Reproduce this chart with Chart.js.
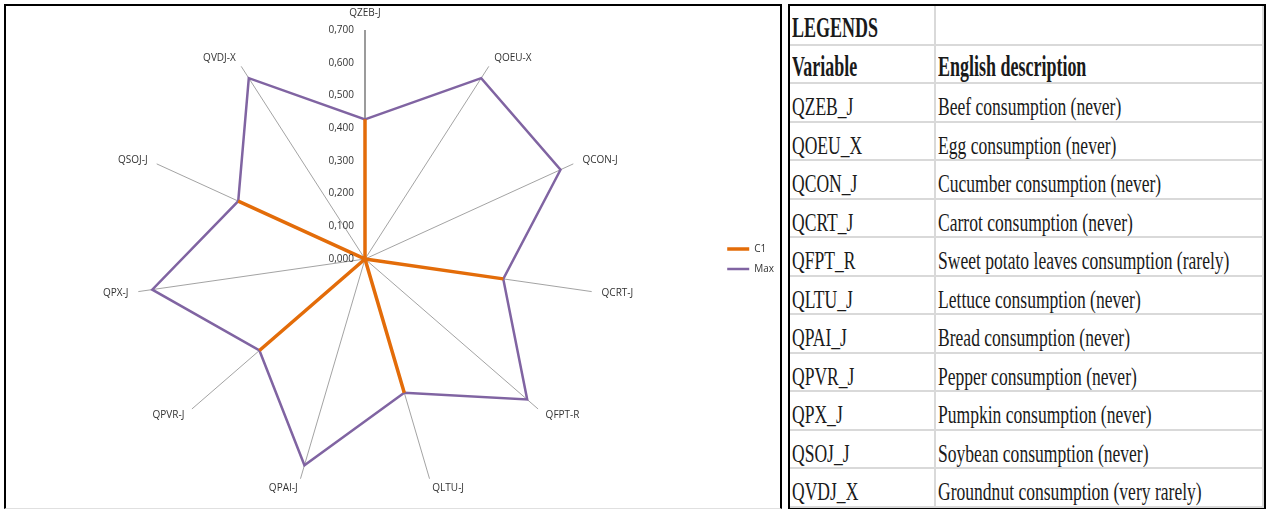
<!DOCTYPE html>
<html>
<head>
<meta charset="utf-8">
<script src="https://cdn.jsdelivr.net/npm/chart.js@4.4.1/dist/chart.umd.min.js"></script>
<style>
  body { margin: 0; background: #fff; width: 1269px; height: 510px; overflow: hidden; }
  #chartBox {
    position: absolute; left: 4px; top: 4px; width: 774px; height: 502px; overflow: hidden;
    border: 2px solid #000; border-bottom: 1px solid #e0e0e0;
  }
  #chartBox canvas { position: absolute; left: 0; top: 0; }
  #legendBox {
    position: absolute; left: 788px; top: 4px; width: 474px; height: 501px;
    border: 2px solid #000;
  }
  #legendTable { border-collapse: collapse; table-layout: fixed; width: 100%; height: 100%; }
  #legendTable tr { height: 38.5px; }
  #legendTable td {
    border: 2px solid #d9d9d9; padding: 0 0 0 2px; overflow: hidden; white-space: nowrap;
    font-family: "Liberation Serif", "Times New Roman", serif; color: #1a1a1a;
    font-size: 0; line-height: 0; vertical-align: middle;
  }
  #legendTable tr:first-child td { border-top: none; }
  #legendTable td:first-child { border-left: none; width: 142px; }
  .txt { display: inline-block; font-size: 26px; line-height: 28px; transform: scaleX(0.675); transform-origin: 0 50%; position: relative; top: 5px; }
  .hd { display: inline-block; font-size: 29px; line-height: 32px; font-weight: bold; transform: scaleX(0.62); transform-origin: 0 50%; position: relative; top: 2px; }
</style>
</head>
<body>
<div id="chartBox"><canvas id="radar" width="778" height="502"></canvas></div>
<div id="legendBox"><table id="legendTable"></table></div>
<script>
// axis categories (clockwise from the top)
const categories = ['QZEB-J', 'QOEU-X', 'QCON-J', 'QCRT-J', 'QFPT-R', 'QLTU-J', 'QPAI-J', 'QPVR-J', 'QPX-J', 'QSOJ-J', 'QVDJ-X'];
const c1Values = [0.427, 0, 0, 0.427, 0, 0.426, 0, 0.427, 0, 0.426, 0];
const maxValues = [0.427, 0.657, 0.657, 0.427, 0.656, 0.426, 0.657, 0.427, 0.657, 0.426, 0.657];
const axisMin = 0;
const axisMax = 0.7;
const axisStep = 0.1;

// legend table on the right
const tableTitle = 'LEGENDS';
const tableHeader = ['Variable', 'English description'];
const variableCodes = ['QZEB_J', 'QOEU_X', 'QCON_J', 'QCRT_J', 'QFPT_R', 'QLTU_J', 'QPAI_J', 'QPVR_J', 'QPX_J', 'QSOJ_J', 'QVDJ_X'];
const descriptions = [
  'Beef consumption (never)',
  'Egg consumption (never)',
  'Cucumber consumption (never)',
  'Carrot consumption (never)',
  'Sweet potato leaves consumption (rarely)',
  'Lettuce consumption (never)',
  'Bread consumption (never)',
  'Pepper consumption (never)',
  'Pumpkin consumption (never)',
  'Soybean consumption (never)',
  'Groundnut consumption (very rarely)'
];

function buildTable() {
  const table = document.getElementById('legendTable');
  const rows = [[tableTitle, '', 'hd'], [tableHeader[0], tableHeader[1], 'hd']];
  variableCodes.forEach((code, i) => rows.push([code, descriptions[i], 'txt']));
  rows.forEach(r => {
    const tr = document.createElement('tr');
    [r[0], r[1]].forEach(text => {
      const td = document.createElement('td');
      const span = document.createElement('span');
      span.className = r[2];
      span.textContent = text;
      td.appendChild(span);
      tr.appendChild(td);
    });
    table.appendChild(tr);
  });
}
buildTable();

const labelFont = '10px "Open Sans"';
const labelColor = '#333333';

// Excel-style labels: values left of the vertical axis, names just past each spoke
const radarLabels = {
  id: 'radarLabels',
  afterDraw(chart) {
    const scale = chart.scales.r;
    const ctx = chart.ctx;
    ctx.save();
    ctx.font = labelFont;
    ctx.fillStyle = labelColor;
    ctx.textBaseline = 'middle';
    ctx.textAlign = 'right';
    scale.ticks.forEach(t => {
      const d = scale.getDistanceFromCenterForValue(t.value);
      ctx.fillText(t.value.toFixed(3).replace('.', ','), scale.xCenter - 11, scale.yCenter - d);
    });
    categories.forEach((name, i) => {
      const p = scale.getPointPosition(i, scale.drawingArea + 10);
      let y = p.y;
      if (Math.abs(p.x - scale.xCenter) < 1) {
        ctx.textAlign = 'center';
        y -= 7;
      } else {
        ctx.textAlign = p.x > scale.xCenter ? 'left' : 'right';
      }
      ctx.fillText(name, p.x, y);
    });
    ctx.restore();
  }
};

new Chart(document.getElementById('radar').getContext('2d'), {
  type: 'radar',
  data: {
    labels: categories,
    datasets: [
      { label: 'C1', data: c1Values, borderColor: '#E36C09', backgroundColor: '#E36C09', borderWidth: 3.5 },
      { label: 'Max', data: maxValues, borderColor: '#8064A2', backgroundColor: '#8064A2', borderWidth: 2.5 }
    ]
  },
  options: {
    responsive: false,
    animation: false,
    layout: { padding: { left: 7, right: 0, top: 24, bottom: 20 } },
    elements: {
      line: { tension: 0, fill: false, borderJoinStyle: 'miter' },
      point: { radius: 0, hoverRadius: 0 }
    },
    scales: {
      r: {
        min: axisMin,
        max: axisMax,
        ticks: { display: false, stepSize: axisStep },
        grid: { display: false },
        pointLabels: { display: false },
        angleLines: {
          display: true,
          color: ctx => ctx.index === 0 ? '#7a7a7a' : '#8c8c8c',
          lineWidth: ctx => ctx.index === 0 ? 1.5 : 0.8
        }
      }
    },
    plugins: {
      legend: {
        position: 'right',
        labels: {
          font: { family: 'Open Sans', size: 10 },
          color: labelColor,
          usePointStyle: true,
          pointStyle: 'line',
          pointStyleWidth: 22,
          padding: 10
        }
      },
      tooltip: { enabled: false }
    }
  },
  plugins: [radarLabels]
});
</script>
</body>
</html>
